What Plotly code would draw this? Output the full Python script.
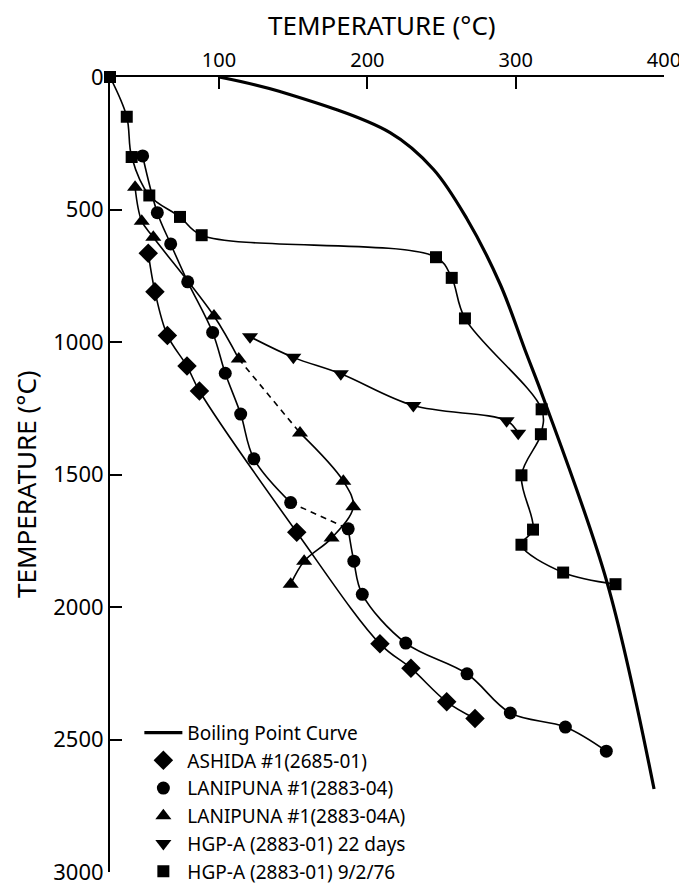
import plotly.graph_objects as go

# ---- data (temperature in °C, depth in m) ----
bp_T = [100, 141.1, 215.3, 244.5, 267, 289.7, 306.5, 318.8, 361.5, 393.3]
bp_D = [0, 55, 210, 348, 534, 784, 1033, 1213, 1905, 2687]

ash_T = [52.3, 56.8, 65.2, 78.4, 86.8, 152.4, 208.5, 229.4, 253.5, 272.6]
ash_D = [665, 810, 975, 1091, 1185, 1718, 2139, 2231, 2358, 2421]

lan_T = [48.5, 58.4, 67.4, 78.9, 95.7, 104.2, 114.6, 123.5, 148.3,
         187.1, 190.9, 196.6, 225.9, 267.2, 296.4, 333.5, 361.1]
lan_D = [298, 512, 630, 773, 964, 1118, 1272, 1441, 1606,
         1705, 1827, 1952, 2136, 2252, 2400, 2453, 2544]
lan_dash_after = 8   # dashed segment between index 8 and 9

lanA_T = [43.4, 47.9, 55.7, 96.6, 113.3, 154.6, 183.8, 190.5, 175.9, 157.4, 148.3]
lanA_D = [416, 544, 605, 902, 1064, 1343, 1525, 1622, 1740, 1827, 1914]
lanA_dash_after = 4  # dashed segment between index 4 and 5

hgp22_T = [120.9, 150.1, 182.1, 231, 293.9, 301.7]
hgp22_D = [980, 1058, 1120, 1240, 1297, 1344]

hgp76_T = [26.5, 37.8, 41.1, 53, 73.7, 88.3, 246.3, 256.9, 265.8,
           317.5, 317, 303.9, 311.7, 303.9, 332, 367.3]
hgp76_D = [0, 150, 302, 447, 528, 597, 680, 758, 911,
           1254, 1348, 1503, 1708, 1765, 1870, 1914]

names = ["Boiling Point Curve", "ASHIDA #1(2685-01)", "LANIPUNA #1(2883-04)",
         "LANIPUNA #1(2883-04A)", "HGP-A (2883-01) 22 days", "HGP-A (2883-01) 9/2/76"]

x_ticks = [100, 200, 300, 400]
y_ticks = [0, 500, 1000, 1500, 2000, 2500, 3000]

FONT = "Noto Sans"
K = "black"

fig = go.Figure()

def line(x, y, dash="solid", w=1.6):
    fig.add_trace(go.Scatter(x=x, y=y, mode="lines", showlegend=False,
                             line=dict(color=K, width=w, dash=dash, shape="spline"),
                             hoverinfo="skip", cliponaxis=False))

def marks(x, y, sym, size):
    fig.add_trace(go.Scatter(x=x, y=y, mode="markers", showlegend=False,
                             marker=dict(symbol=sym, size=size, color=K),
                             cliponaxis=False))

# boiling point curve
line(bp_T, bp_D, w=3.2)
# ASHIDA
line(ash_T, ash_D)
# LANIPUNA 04
i = lan_dash_after
line(lan_T[:i + 1], lan_D[:i + 1])
line(lan_T[i:i + 2], lan_D[i:i + 2], dash="6px,5px")
line(lan_T[i + 1:], lan_D[i + 1:])
# LANIPUNA 04A
j = lanA_dash_after
line(lanA_T[:j + 1], lanA_D[:j + 1])
line(lanA_T[j:j + 2], lanA_D[j:j + 2], dash="6px,5px")
line(lanA_T[j + 1:], lanA_D[j + 1:])
# HGP-A
line(hgp22_T, hgp22_D)
line(hgp76_T, hgp76_D)

marks(ash_T, ash_D, "diamond", 15)
marks(lan_T, lan_D, "circle", 13)
marks(lanA_T, lanA_D, "triangle-up", 14)
marks(hgp22_T, hgp22_D, "triangle-down", 14)
marks(hgp76_T, hgp76_D, "square", 12)

# legend entries
fig.add_trace(go.Scatter(x=[None], y=[None], mode="lines", name=names[0],
                         line=dict(color=K, width=3.2)))
for nm, sym, sz in zip(names[1:], ["diamond", "circle", "triangle-up", "triangle-down", "square"],
                       [15, 13, 14, 14, 12]):
    fig.add_trace(go.Scatter(x=[None], y=[None], mode="markers", name=nm,
                             marker=dict(symbol=sym, size=sz, color=K)))

# the page body adds an 8px offset; size/margins compensate so the plot area
# lands at x 110..664, y 77..872 in the window
fig.update_layout(
    width=679, height=880,
    margin=dict(l=102, r=23, t=69, b=16, autoexpand=False),
    paper_bgcolor="white", plot_bgcolor="white",
    font=dict(family=FONT, color=K),
    showlegend=True,
    legend=dict(x=0.053, y=0.199, xanchor="left", yanchor="top",
                font=dict(size=19, family=FONT, color=K),
                bgcolor="rgba(0,0,0,0)", itemwidth=38, tracegroupgap=0),
    xaxis=dict(side="top", range=[26.5, 400], tickmode="array", tickvals=x_ticks,
               ticktext=[str(v) for v in x_ticks], automargin=False,
               ticklabeloverflow="allow",
               ticks="inside", ticklen=12, tickwidth=2, tickcolor=K,
               showline=True, linewidth=2, linecolor=K, showgrid=False, zeroline=False,
               tickfont=dict(size=20, family=FONT, color=K)),
    yaxis=dict(range=[3000, 0], tickmode="array", tickvals=y_ticks,
               ticktext=[str(v) for v in y_ticks], automargin=False,
               ticklabeloverflow="allow",
               ticks="inside", ticklen=12, tickwidth=2, tickcolor=K,
               showline=True, linewidth=2, linecolor=K, showgrid=False, zeroline=False,
               tickfont=dict(size=22, family=FONT, color=K)),
    annotations=[
        dict(text="TEMPERATURE (°C)", xref="paper", yref="paper",
             x=(382 - 110) / 554, y=1, yshift=52, xanchor="center", yanchor="middle",
             showarrow=False, font=dict(size=26, family=FONT, color=K)),
        dict(text="TEMPERATURE (°C)", xref="paper", yref="paper",
             x=0, xshift=-84, y=(872 - 484) / 795, textangle=-90,
             xanchor="center", yanchor="middle",
             showarrow=False, font=dict(size=26, family=FONT, color=K)),
    ],
)

fig.write_html("out.html")
